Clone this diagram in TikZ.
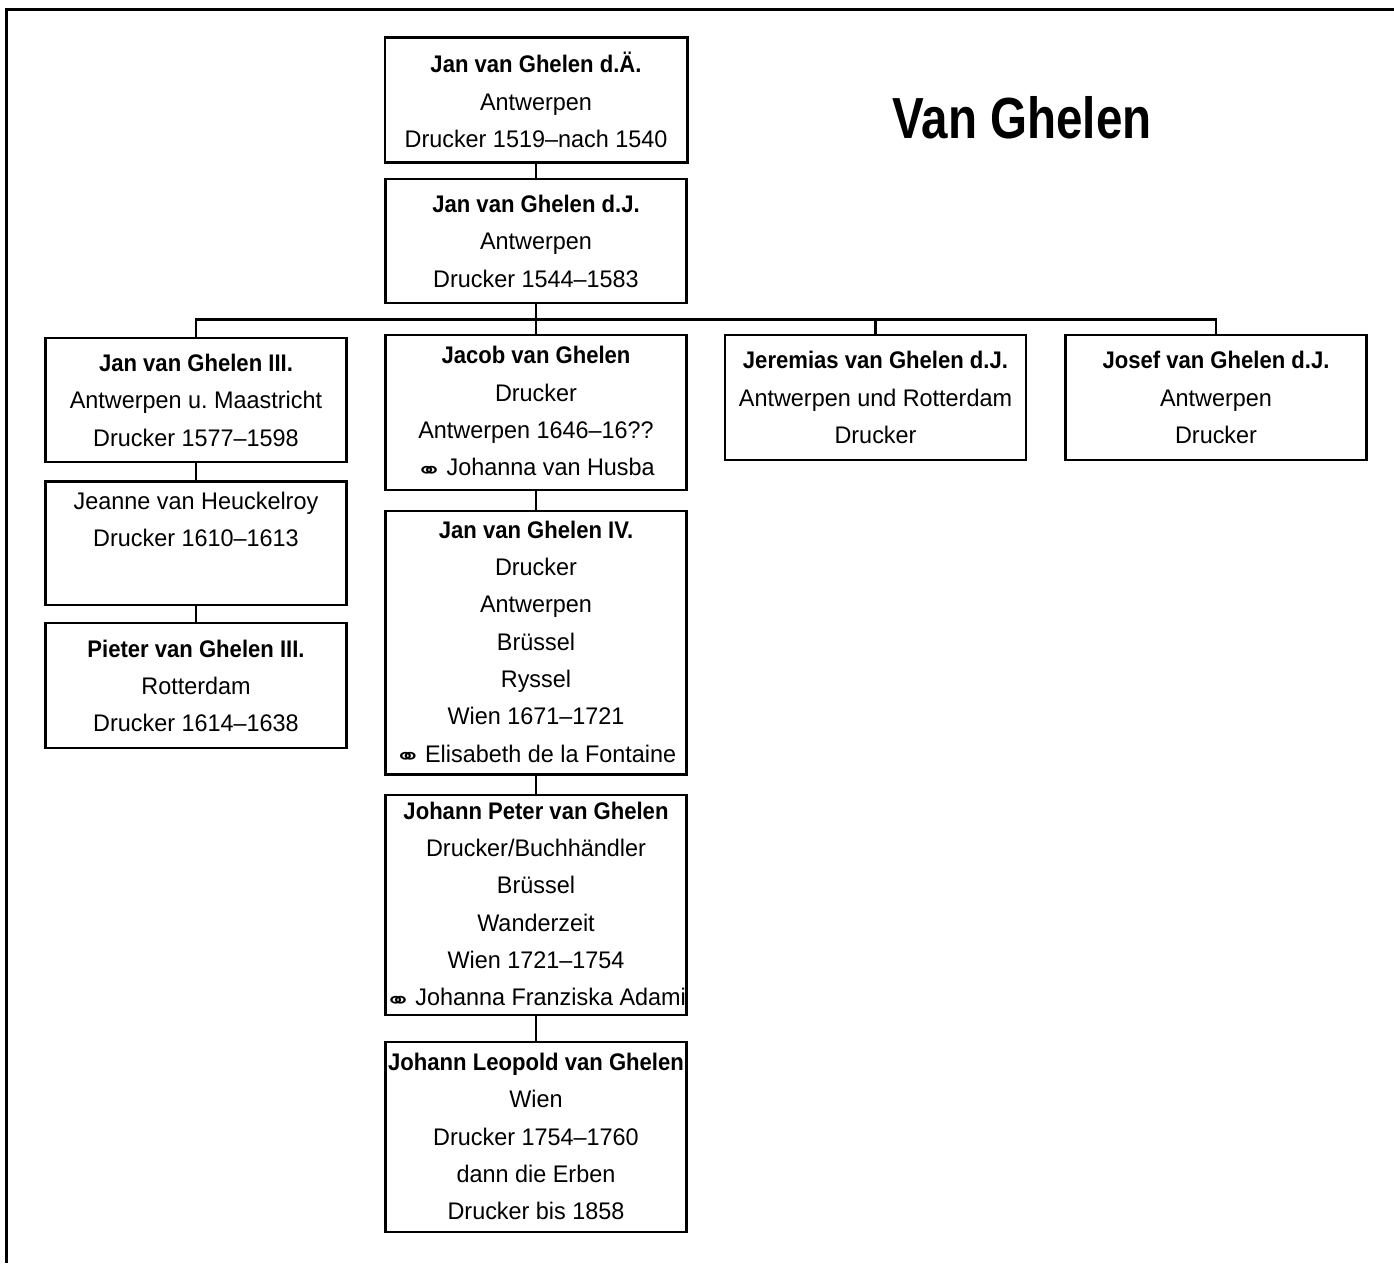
\documentclass[tikz,border=0pt]{standalone}
\usepackage{graphicx}
\usepackage{fontspec}
\setmainfont{Liberation Sans}[FakeStretch=0.975]
\newfontfamily\namefont{Liberation Sans}[FakeStretch=0.92]
\newfontfamily\titlefont{Liberation Sans}[FakeStretch=0.82]
\newfontfamily\symfont{DejaVu Sans}
\newcommand{\who}[1]{{\namefont\bfseries #1}}
\newcommand{\oo}{\kern-1pt\raisebox{-2pt}{\scalebox{1.4}[1]{\symfont\fontsize{17}{17}\selectfont ⚭}}\kern3pt}

\tikzset{
  person/.style={draw, line width=1.75pt, align=center, inner sep=0pt,
    minimum width=225.75pt, font=\fontsize{18}{28}\selectfont},
  link/.style={line width=1.75pt},
}

\begin{document}
\begin{tikzpicture}[x=0.75pt,y=0.75pt,yscale=-1]
\useasboundingbox (0,0) rectangle (1394,1263);

%Frame
\draw [line width=2.2pt] (6.5,1263) -- (6.5,9.8) -- (1394,9.8);

% Title
\node (title) [anchor=base, font=\titlefont\bfseries\fontsize{43.5}{50}\selectfont] at (1022,138.3) {Van Ghelen};

% Person Boxes
\node (jan1) [person, minimum width=227pt, minimum height=93.5pt] at (536,100) {\who{Jan van Ghelen d.Ä.}\\Antwerpen\\Drucker 1519--nach 1540};
\node (jan2) [person, minimum height=93pt] at (536,241.3) {\who{Jan van Ghelen d.J.}\\Antwerpen\\Drucker 1544--1583};
\node (jan3) [person, minimum height=93pt] at (196,400.3) {\who{Jan van Ghelen III.}\\Antwerpen u.\ Maastricht\\Drucker 1577--1598};
\node (jacob) [person, minimum height=116.25pt] at (536,412.5) {\who{Jacob van Ghelen}\\Drucker\\Antwerpen 1646--16??\\\oo Johanna van Husba};
\node (jeremias) [person, minimum height=93.75pt] at (875.5,397.5) {\who{Jeremias van Ghelen d.J.}\\Antwerpen und Rotterdam\\Drucker};
\node (josef) [person, minimum height=93.75pt] at (1216,397.5) {\who{Josef van Ghelen d.J.}\\Antwerpen\\Drucker};
\node (jeanne) [person, minimum height=92.5pt] at (196,543.3) {Jeanne van Heuckelroy\\Drucker 1610--1613\\\strut};
\node (pieter) [person, minimum height=93.75pt] at (196,685.8) {\who{Pieter van Ghelen III.}\\Rotterdam\\Drucker 1614--1638};
\node (jan4) [person, minimum height=197.5pt] at (536,642.7) {\who{Jan van Ghelen IV.}\\Drucker\\Antwerpen\\Brüssel\\Ryssel\\Wien 1671--1721\\\oo Elisabeth de la Fontaine};
\node (jpeter) [person, minimum height=165pt] at (536,905) {\who{Johann Peter van Ghelen}\\Drucker/Buchhändler\\Brüssel\\Wanderzeit\\Wien 1721--1754\\\oo Johanna Franziska Adami};
\node (jleopold) [person, minimum height=142.5pt] at (536,1136.7) {\who{Johann Leopold van Ghelen}\\Wien\\Drucker 1754--1760\\dann die Erben\\Drucker bis 1858};

%Connector Lines
\coordinate (fork) at (536,319.5);
\draw [link] (jan1.south) -- (jan2.north);
\draw [link] (jan2.south) -- (jacob.north);
\draw [link] (jan3.north) |- (fork) -| (josef.north);
\draw [link] (fork) -| (jeremias.north);
\draw [link] (jan3.south) -- (jeanne.north);
\draw [link] (jeanne.south) -- (pieter.north);
\draw [link] (jacob.south) -- (jan4.north);
\draw [link] (jan4.south) -- (jpeter.north);
\draw [link] (jpeter.south) -- (jleopold.north);

\end{tikzpicture}
\end{document}
